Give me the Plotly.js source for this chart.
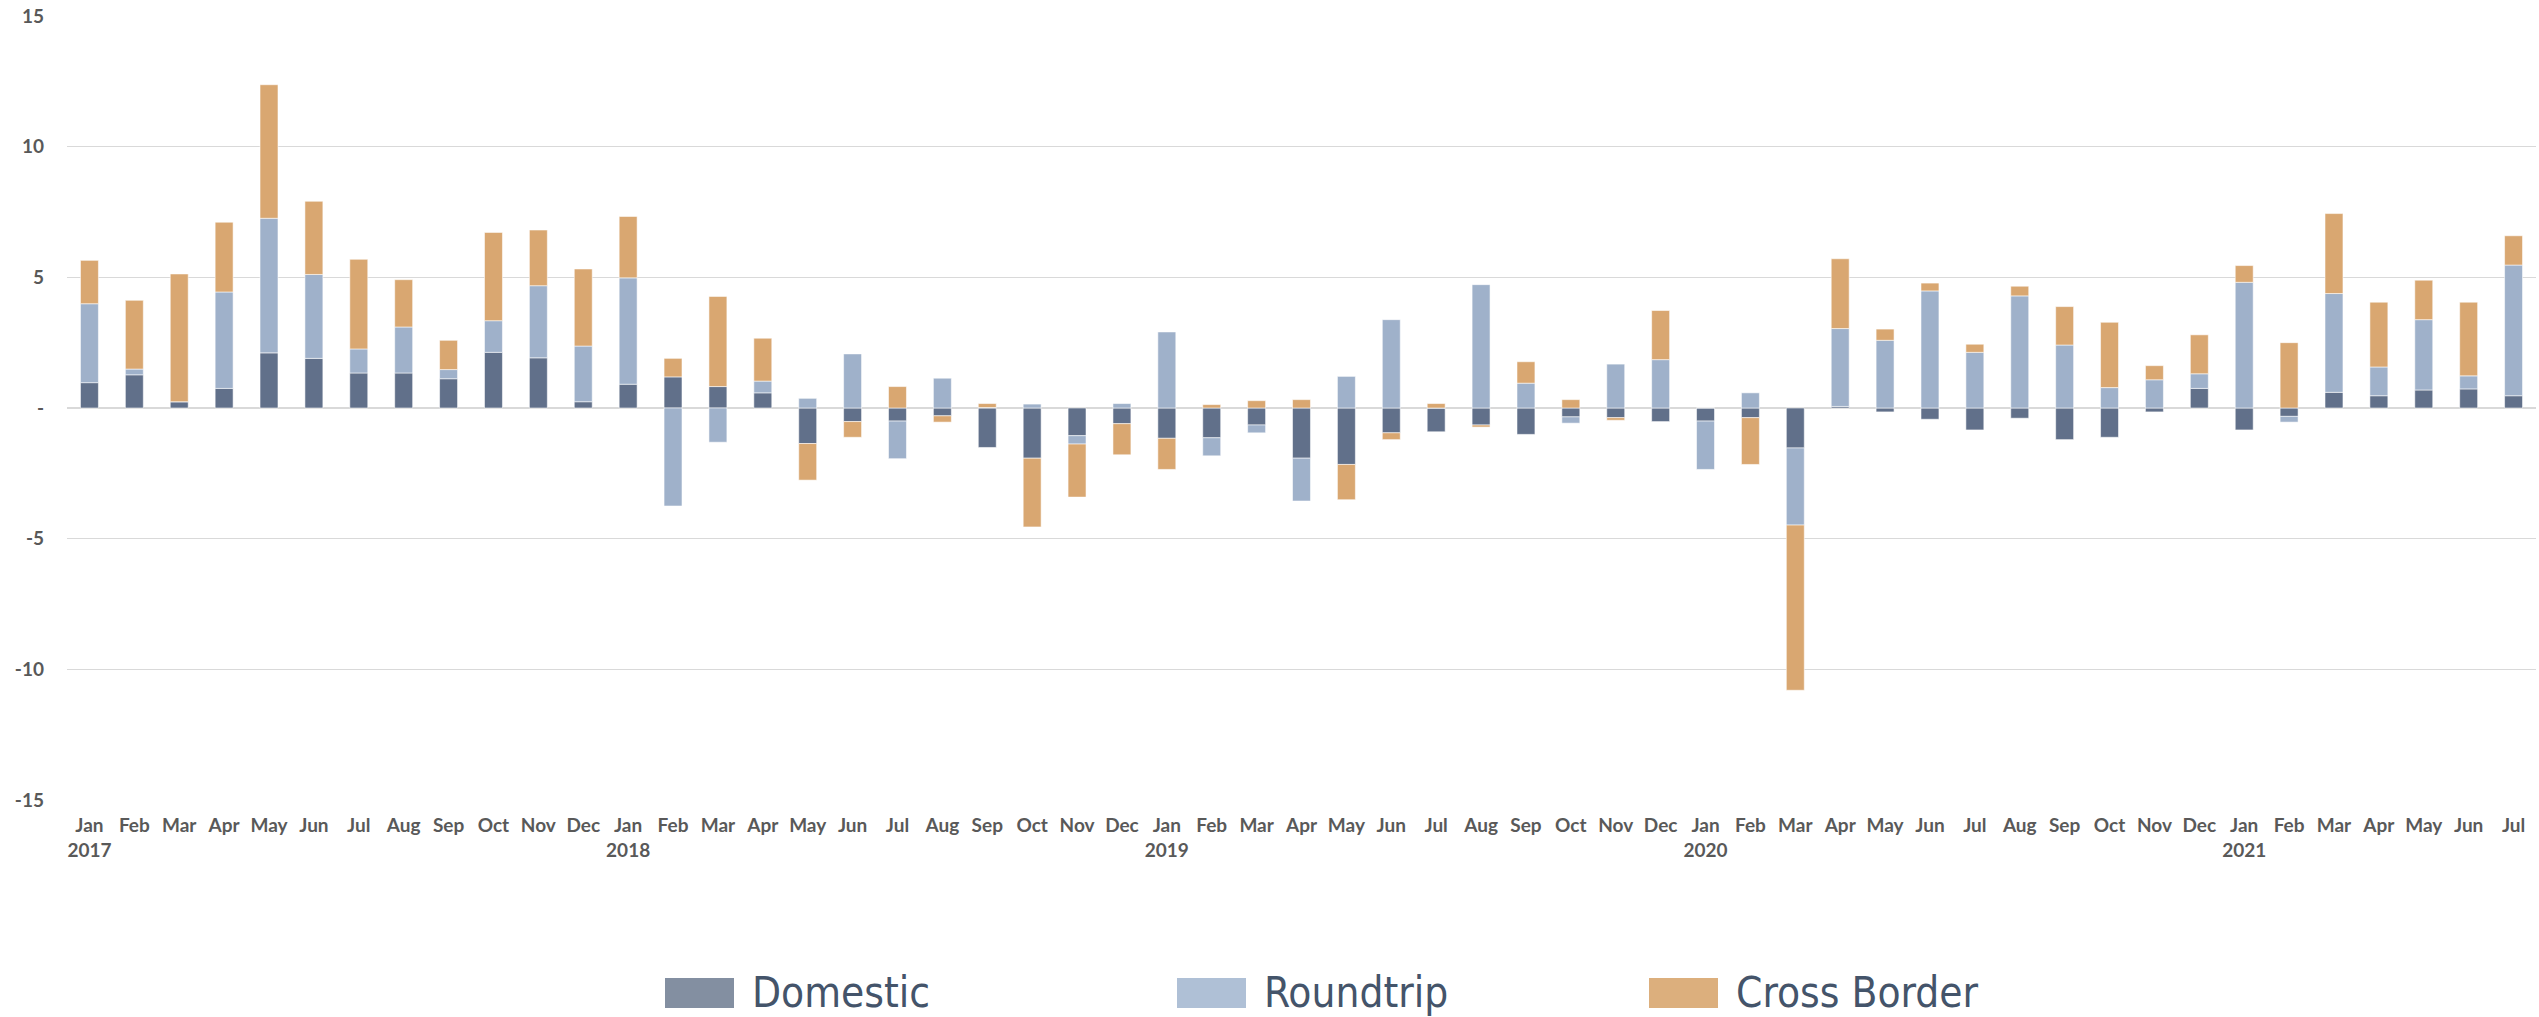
<!DOCTYPE html>
<html>
<head>
<meta charset="utf-8">
<script src="https://cdn.plot.ly/plotly-3.0.1.min.js"></script>
<style>
  html, body { margin: 0; padding: 0; background: #ffffff; }
  #chart { width: 2539px; height: 1017px; }
</style>
</head>
<body>
<div id="chart"></div>
<script>
// ---------- DATA ----------
const monthNames = ["Jan","Feb","Mar","Apr","May","Jun","Jul","Aug","Sep","Oct","Nov","Dec"];
const years = [2017, 2018, 2019, 2020, 2021];
const lastYearMonths = 7; // data runs to Jul 2021

const seriesNames = ["Domestic", "Roundtrip", "Cross Border"];

const domestic = [
  0.97, 1.27, 0.24, 0.75, 2.11, 1.90, 1.34, 1.34, 1.12, 2.13, 1.92, 0.24,
  0.91, 1.19, 0.82, 0.58, -1.36, -0.52, -0.50, -0.30, -1.51, -1.92, -1.06, -0.60,
  -1.16, -1.14, -0.65, -1.92, -2.16, -0.95, -0.91, -0.65, -1.01, -0.34, -0.37, -0.52,
  -0.50, -0.37, -1.53, 0.06, -0.15, -0.43, -0.84, -0.39, -1.21, -1.12, -0.15, 0.75,
  -0.84, -0.32, 0.60, 0.47, 0.69, 0.73, 0.47
];
const roundtrip = [
  3.02, 0.22, 0.00, 3.69, 5.15, 3.21, 0.92, 1.76, 0.35, 1.21, 2.76, 2.13,
  4.07, -3.75, -1.31, 0.45, 0.37, 2.07, -1.44, 1.14, 0.02, 0.15, -0.32, 0.17,
  2.91, -0.69, -0.30, -1.64, 1.21, 3.38, 0.00, 4.72, 0.95, -0.24, 1.68, 1.85,
  -1.85, 0.58, -2.95, 2.98, 2.59, 4.48, 2.13, 4.29, 2.41, 0.78, 1.08, 0.56,
  4.81, -0.22, 3.78, 1.10, 2.69, 0.50, 5.00
];
const crossBorder = [
  1.66, 2.63, 4.89, 2.67, 5.11, 2.80, 3.43, 1.81, 1.12, 3.38, 2.13, 2.95,
  2.35, 0.71, 3.45, 1.64, -1.40, -0.60, 0.82, -0.24, 0.15, -2.63, -2.03, -1.19,
  -1.19, 0.13, 0.28, 0.32, -1.35, -0.26, 0.17, -0.08, 0.82, 0.32, -0.10, 1.88,
  0.00, -1.79, -6.32, 2.67, 0.43, 0.30, 0.31, 0.37, 1.47, 2.50, 0.54, 1.49,
  0.64, 2.50, 3.06, 2.48, 1.51, 2.82, 1.12
];

const yTickVals = [-15, -10, -5, 0, 5, 10, 15];
const yTickText = ["-15", "-10", "-5", "-", "5", "10", "15"];

// ---------- CATEGORIES ----------
const categories = [];
const tickLabels = [];
years.forEach(function (yr, yi) {
  const n = (yi === years.length - 1) ? lastYearMonths : 12;
  for (let m = 0; m < n; m++) {
    categories.push(monthNames[m] + " " + yr);
    tickLabels.push(m === 0 ? monthNames[m] + "<br>" + yr : monthNames[m]);
  }
});

// ---------- STYLE ----------
const barColors = ["#61708A", "#9FB1CA", "#D9A771"];
const legendColors = ["#838FA1", "#AFC0D6", "#DCAF7D"];
const seriesValues = [domestic, roundtrip, crossBorder];

const traces = seriesNames.map(function (name, i) {
  return {
    type: "bar",
    name: name,
    x: categories,
    y: seriesValues[i],
    marker: { color: barColors[i], line: { color: "rgba(255,255,255,0.55)", width: 1 } },
    hoverinfo: "x+y+name"
  };
});

const tickFont = { family: "Lato, DejaVu Sans, sans-serif", size: 19, color: "#595959", weight: "bold" };

// custom legend (large swatches like the original)
const plotL = 67, plotR = 2536, plotT = 16, plotB = 800;
const pw = plotR - plotL, ph = plotB - plotT;
function px(x) { return (x - plotL) / pw; }
function py(y) { return (plotB - y) / ph; }
const legendX = [665, 1177, 1649];
const swW = 69, swTop = 978, swBot = 1008;
const shapes = [];
const annotations = [];
seriesNames.forEach(function (name, i) {
  shapes.push({
    type: "rect", xref: "paper", yref: "paper",
    x0: px(legendX[i]), x1: px(legendX[i] + swW),
    y0: py(swBot), y1: py(swTop),
    fillcolor: legendColors[i], line: { width: 0 }
  });
  annotations.push({
    xref: "paper", yref: "paper",
    x: px(legendX[i] + swW + 16), y: py((swTop + swBot) / 2 - 1),
    xanchor: "left", yanchor: "middle",
    text: name, showarrow: false,
    font: { family: "DejaVu Sans Condensed, Liberation Sans Narrow, sans-serif", size: 42, color: "#44546A" }
  });
});

const layout = {
  width: 2539,
  height: 1017,
  margin: { l: plotL, r: 2539 - plotR, t: plotT, b: 1017 - plotB },
  paper_bgcolor: "#ffffff",
  plot_bgcolor: "#ffffff",
  barmode: "relative",
  bargap: 0.6,
  showlegend: false,
  xaxis: {
    type: "category",
    tickmode: "array",
    tickvals: categories,
    ticktext: tickLabels,
    tickangle: 0,
    tickfont: tickFont,
    showgrid: false,
    zeroline: false,
    showline: false,
    ticks: "",
    ticklabelstandoff: 12,
    automargin: false
  },
  yaxis: {
    range: [-15, 15],
    tickmode: "array",
    tickvals: yTickVals,
    ticktext: yTickText,
    tickfont: tickFont,
    showgrid: true,
    gridcolor: "#D9D9D9",
    gridwidth: 1,
    zeroline: true,
    zerolinecolor: "#D9D9D9",
    zerolinewidth: 2,
    showline: false,
    ticks: "",
    ticklabelstandoff: 22,
    automargin: false
  },
  shapes: shapes,
  annotations: annotations
};

Plotly.newPlot("chart", traces, layout, { displayModeBar: false, staticPlot: false });
</script>
</body>
</html>
